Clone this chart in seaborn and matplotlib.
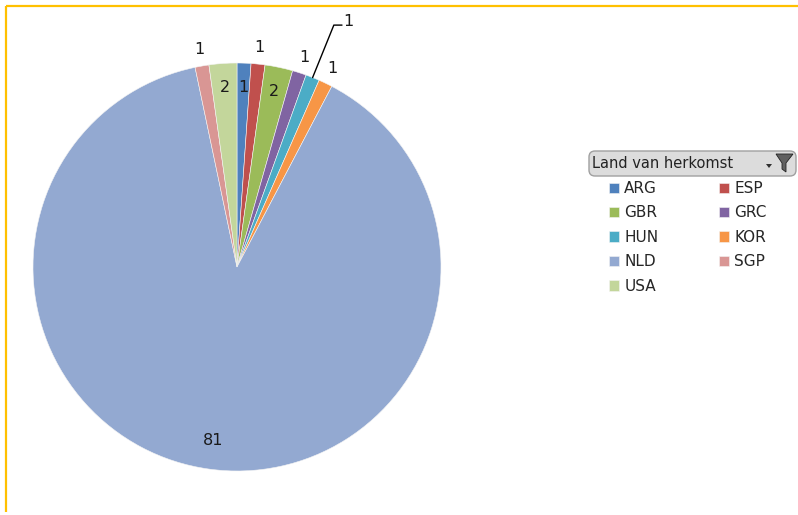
import numpy as np
import matplotlib
matplotlib.use("Agg")
import matplotlib.pyplot as plt
import seaborn as sns
from matplotlib.patches import FancyBboxPatch, Polygon

# data
countries = ["ARG", "ESP", "GBR", "GRC", "HUN", "KOR", "NLD", "SGP", "USA"]
counts = [1, 1, 2, 1, 1, 1, 81, 1, 2]
colors = ["#4F81BD", "#C0504D", "#9BBB59", "#8064A2", "#4BACC6",
          "#F79646", "#93A9D1", "#D99694", "#C3D69B"]
legend_title = "Land van herkomst"

sns.set_theme(style="white")
plt.rcParams["font.family"] = ["DejaVu Sans"]

W, H = 798, 515
fig = plt.figure(figsize=(W / 100, H / 100), dpi=100)
fig.patch.set_facecolor("white")

# overlay axes in pixel coordinates for the frame and legend header
over = fig.add_axes([0, 0, 1, 1], zorder=0)
over.set_xlim(0, W)
over.set_ylim(H, 0)
over.axis("off")
over.plot([6, W], [6, 6], color="#FFC000", lw=1.6, solid_capstyle="butt")
over.plot([6, 6], [6, 512], color="#FFC000", lw=1.6, solid_capstyle="butt")

# pie axes
ax = fig.add_axes([33 / W, 44 / H, 408 / W, 408 / H], zorder=2)
ax.set_facecolor("none")
pal = sns.color_palette(colors)
wedges, _ = ax.pie(counts, colors=pal, startangle=90, counterclock=False,
                   radius=1, wedgeprops=dict(edgecolor="#f4f4f4", linewidth=0.4))
ax.set_xlim(-1, 1)
ax.set_ylim(-1, 1)
ax.set_aspect("equal")
ax.axis("off")

# label radius per slice (None = leader line)
label_r = [0.88, 1.08, 0.88, 1.08, None, 1.08, 0.86, 1.08, 0.88]
for w, val, r in zip(wedges, counts, label_r):
    mid = np.deg2rad((w.theta1 + w.theta2) / 2)
    if r is None:
        x0, y0 = np.cos(mid), np.sin(mid)
        xe, ye = x0 + 0.104, y0 + 0.257
        ax.plot([x0, xe, xe + 0.04], [y0, ye, ye], color="black", lw=1.0,
                clip_on=False)
        ax.text(xe + 0.045, ye + 0.02, str(val), ha="left", va="center",
                fontsize=11.5, color="#1a1a1a")
    else:
        ax.text(r * np.cos(mid), r * np.sin(mid), str(val), ha="center",
                va="center", fontsize=11.5, color="#1a1a1a")

# legend header (pivot chart field button)
hdr = FancyBboxPatch((589, 151), 207, 25, boxstyle="round,pad=0,rounding_size=6",
                     facecolor="#DCDCDC", edgecolor="#A0A0A0", lw=1.0)
over.add_patch(hdr)
over.text(592, 164, legend_title, ha="left", va="center", fontsize=10.5,
          color="#222222")
over.add_patch(Polygon([[776, 154], [793, 154], [786, 163], [786, 172],
                        [782, 169], [782, 163]], closed=True,
                       facecolor="#606060", edgecolor="#222222", lw=0.6))
over.add_patch(Polygon([[766, 164], [772, 164], [769, 168]], closed=True,
                       facecolor="#303030", edgecolor="none"))

# legend, row-major order like the original
order = [0, 2, 4, 6, 8, 1, 3, 5, 7]
fig.legend([wedges[i] for i in order], [countries[i] for i in order],
           ncol=2, loc="upper left", bbox_to_anchor=(609 / W, 1 - 181 / H),
           frameon=False, fontsize=11, handlelength=0.65, handleheight=0.65,
           handletextpad=0.35, columnspacing=3.95, labelspacing=0.62,
           borderpad=0, borderaxespad=0)

fig.savefig("out.png", dpi=100)
